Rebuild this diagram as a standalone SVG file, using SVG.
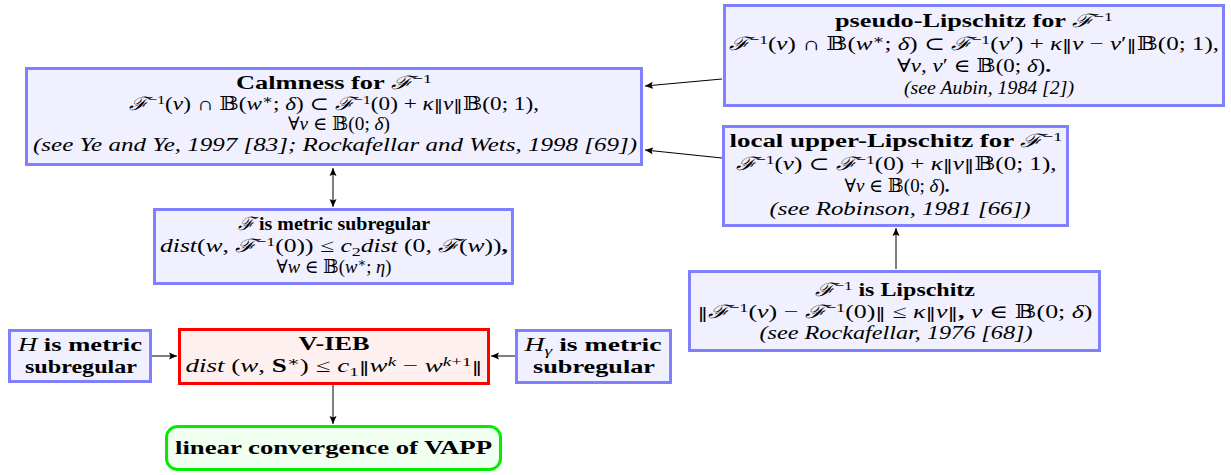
<svg xmlns="http://www.w3.org/2000/svg" width="1231" height="475" viewBox="0 0 1231 475">
<style>
.bx{fill:#f0f0ff;stroke:#8080ff;stroke-width:3}
.rd{fill:#fff0f0;stroke:#ff0000;stroke-width:3}
.gr{fill:#f0fff0;stroke:#00ee00;stroke-width:3}
text{font-family:"Liberation Serif","DejaVu Serif",serif;font-size:18.5px;fill:#000;text-anchor:middle}
.b{font-weight:bold}
.i{font-style:italic}
.s{font-size:13px}
.n{font-family:"DejaVu Serif",serif;font-size:15px;font-style:normal}
.c{stroke:#000;stroke-width:1;fill:none}
</style>
<defs>
<marker id="ah" markerWidth="9" markerHeight="8" refX="8" refY="4" orient="auto" markerUnits="userSpaceOnUse">
<path d="M0,0.5 L8,4 L0,7.5 L1.5,4 z" fill="#000"/>
</marker>
<marker id="as" markerWidth="9" markerHeight="8" refX="0" refY="4" orient="auto" markerUnits="userSpaceOnUse">
<path d="M8,0.5 L0,4 L8,7.5 L6.5,4 z" fill="#000"/>
</marker>
</defs>

<g id="connectors">
<line class="c" x1="722" y1="79" x2="645" y2="86" marker-end="url(#ah)"/>
<line class="c" x1="722" y1="158" x2="645" y2="150" marker-end="url(#ah)"/>
<line class="c" x1="333" y1="168" x2="333" y2="207" marker-start="url(#as)" marker-end="url(#ah)"/>
<line class="c" x1="896" y1="269" x2="896" y2="228" marker-end="url(#ah)"/>
<line class="c" x1="152" y1="356" x2="177" y2="356" marker-end="url(#ah)"/>
<line class="c" x1="515" y1="356" x2="491" y2="356" marker-end="url(#ah)"/>
<line class="c" x1="333" y1="385" x2="333" y2="424" marker-end="url(#ah)"/>
</g>

<g id="pseudo">
<rect class="bx" x="724.5" y="5.5" width="499" height="100"/>
<text x="974" y="27" class="b" textLength="278" lengthAdjust="spacingAndGlyphs">pseudo-Lipschitz for <tspan class="i" font-weight="normal">ℱ</tspan><tspan class="s" font-weight="normal" baseline-shift="6">−1</tspan></text>
<text x="974" y="50" textLength="490" lengthAdjust="spacingAndGlyphs"><tspan class="i">ℱ</tspan><tspan class="s" baseline-shift="6">−1</tspan>(<tspan class="i">v</tspan>) ∩ 𝔹(<tspan class="i">w</tspan><tspan class="s" baseline-shift="6">∗</tspan>; <tspan class="i">δ</tspan>) ⊂ <tspan class="i">ℱ</tspan><tspan class="s" baseline-shift="6">−1</tspan>(<tspan class="i">v</tspan>′) + <tspan class="i">κ</tspan><tspan class="n">‖</tspan><tspan class="i">v</tspan> − <tspan class="i">v</tspan>′<tspan class="n">‖</tspan>𝔹(0; 1),</text>
<text x="974" y="72" textLength="154" lengthAdjust="spacingAndGlyphs">∀<tspan class="i">v</tspan>, <tspan class="i">v</tspan>′ ∈ 𝔹(0; <tspan class="i">δ</tspan>)<tspan class="b">.</tspan></text>
<text x="989" y="94" class="i" textLength="170" lengthAdjust="spacingAndGlyphs">(see Aubin, 1984 [2])</text>
</g>

<g id="calmness">
<rect class="bx" x="26.5" y="68.5" width="615" height="96"/>
<text x="334" y="89" class="b" textLength="196" lengthAdjust="spacingAndGlyphs">Calmness for <tspan class="i" font-weight="normal">ℱ</tspan><tspan class="s" font-weight="normal" baseline-shift="6">−1</tspan></text>
<text x="334" y="110" textLength="410" lengthAdjust="spacingAndGlyphs"><tspan class="i">ℱ</tspan><tspan class="s" baseline-shift="6">−1</tspan>(<tspan class="i">v</tspan>) ∩ 𝔹(<tspan class="i">w</tspan><tspan class="s" baseline-shift="6">∗</tspan>; <tspan class="i">δ</tspan>) ⊂ <tspan class="i">ℱ</tspan><tspan class="s" baseline-shift="6">−1</tspan>(0) + <tspan class="i">κ</tspan><tspan class="n">‖</tspan><tspan class="i">v</tspan><tspan class="n">‖</tspan>𝔹(0; 1),</text>
<text x="339" y="130" textLength="102" lengthAdjust="spacingAndGlyphs">∀<tspan class="i">v</tspan> ∈ 𝔹(0; <tspan class="i">δ</tspan>)</text>
<text x="335" y="151" class="i" textLength="604" lengthAdjust="spacingAndGlyphs">(see Ye and Ye, 1997 [83]; Rockafellar and Wets, 1998 [69])</text>
</g>

<g id="metric-subregular">
<rect class="bx" x="154.5" y="209.5" width="358" height="74"/>
<text x="334" y="230" textLength="192" lengthAdjust="spacingAndGlyphs"><tspan class="i">ℱ</tspan><tspan class="b"> is metric subregular</tspan></text>
<text x="334" y="252" textLength="348" lengthAdjust="spacingAndGlyphs"><tspan class="i">dist</tspan>(<tspan class="i">w</tspan>, <tspan class="i">ℱ</tspan><tspan class="s" baseline-shift="6">−1</tspan>(0)) ≤ <tspan class="i">c</tspan><tspan class="s" baseline-shift="-4">2</tspan><tspan class="i">dist</tspan> (0, <tspan class="i">ℱ</tspan>(<tspan class="i">w</tspan>))<tspan class="b">,</tspan></text>
<text x="334" y="273" textLength="115" lengthAdjust="spacingAndGlyphs">∀<tspan class="i">w</tspan> ∈ 𝔹(<tspan class="i">w</tspan><tspan class="s" baseline-shift="6">∗</tspan>; <tspan class="i">η</tspan>)</text>
</g>

<g id="local-upper-lipschitz">
<rect class="bx" x="723.5" y="126.5" width="344" height="99"/>
<text x="896" y="147" class="b" textLength="333" lengthAdjust="spacingAndGlyphs">local upper-Lipschitz for <tspan class="i" font-weight="normal">ℱ</tspan><tspan class="s" font-weight="normal" baseline-shift="6">−1</tspan></text>
<text x="896" y="170" textLength="321" lengthAdjust="spacingAndGlyphs"><tspan class="i">ℱ</tspan><tspan class="s" baseline-shift="6">−1</tspan>(<tspan class="i">v</tspan>) ⊂ <tspan class="i">ℱ</tspan><tspan class="s" baseline-shift="6">−1</tspan>(0) + <tspan class="i">κ</tspan><tspan class="n">‖</tspan><tspan class="i">v</tspan><tspan class="n">‖</tspan>𝔹(0; 1),</text>
<text x="897" y="192" textLength="105" lengthAdjust="spacingAndGlyphs">∀<tspan class="i">v</tspan> ∈ 𝔹(0; <tspan class="i">δ</tspan>)<tspan class="b">.</tspan></text>
<text x="900" y="215" class="i" textLength="261" lengthAdjust="spacingAndGlyphs">(see Robinson, 1981 [66])</text>
</g>

<g id="lipschitz">
<rect class="bx" x="689.5" y="271.5" width="410" height="79"/>
<text x="895" y="296" textLength="160" lengthAdjust="spacingAndGlyphs"><tspan class="i">ℱ</tspan><tspan class="s" baseline-shift="6">−1</tspan><tspan class="b"> is Lipschitz</tspan></text>
<text x="895" y="318" textLength="395" lengthAdjust="spacingAndGlyphs"><tspan class="n">‖</tspan><tspan class="i">ℱ</tspan><tspan class="s" baseline-shift="6">−1</tspan>(<tspan class="i">v</tspan>) − <tspan class="i">ℱ</tspan><tspan class="s" baseline-shift="6">−1</tspan>(0)<tspan class="n">‖</tspan> ≤ <tspan class="i">κ</tspan><tspan class="n">‖</tspan><tspan class="i">v</tspan><tspan class="n">‖</tspan><tspan class="b">,</tspan> <tspan class="i">v</tspan> ∈ 𝔹(0; <tspan class="i">δ</tspan>)</text>
<text x="896" y="339" class="i" textLength="273" lengthAdjust="spacingAndGlyphs">(see Rockafellar, 1976 [68])</text>
</g>

<g id="H">
<rect class="bx" x="9.5" y="330.5" width="141" height="51"/>
<text x="80" y="351" textLength="124" lengthAdjust="spacingAndGlyphs"><tspan class="i">H</tspan><tspan class="b"> is metric</tspan></text>
<text x="81" y="373" class="b" textLength="112" lengthAdjust="spacingAndGlyphs">subregular</text>
</g>

<g id="V-IEB">
<rect class="rd" x="179.5" y="329.5" width="309" height="54"/>
<text x="334" y="350" class="b" textLength="71" lengthAdjust="spacingAndGlyphs">V-IEB</text>
<text x="334" y="372" textLength="297" lengthAdjust="spacingAndGlyphs"><tspan class="i">dist</tspan> (<tspan class="i">w</tspan>, <tspan class="b">S</tspan><tspan class="s" baseline-shift="6">∗</tspan>) ≤ <tspan class="i">c</tspan><tspan class="s" baseline-shift="-4">1</tspan><tspan class="n">‖</tspan><tspan class="i">w</tspan><tspan class="s i" baseline-shift="6">k</tspan> − <tspan class="i">w</tspan><tspan class="s" baseline-shift="6"><tspan class="i">k</tspan>+1</tspan><tspan class="n">‖</tspan></text>
</g>

<g id="H-gamma">
<rect class="bx" x="516.5" y="330.5" width="154" height="52"/>
<text x="593" y="351" textLength="137" lengthAdjust="spacingAndGlyphs"><tspan class="i">H</tspan><tspan class="s i" baseline-shift="-4">γ</tspan><tspan class="b"> is metric</tspan></text>
<text x="594" y="373" class="b" textLength="122" lengthAdjust="spacingAndGlyphs">subregular</text>
</g>

<g id="linear-convergence">
<rect class="gr" x="166.5" y="426.5" width="334" height="43" rx="11"/>
<text x="333.5" y="454" class="b" textLength="317" lengthAdjust="spacingAndGlyphs">linear convergence of VAPP</text>
</g>
</svg>
